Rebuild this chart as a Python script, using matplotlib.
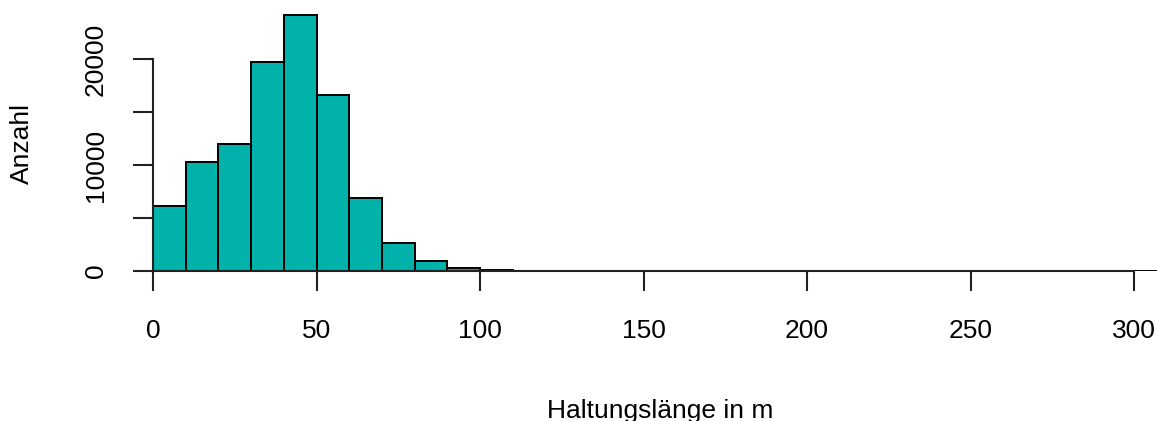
import matplotlib
matplotlib.use('Agg')

import matplotlib.pyplot as plt
import numpy as np

plt.rcParams['font.family'] = ['Liberation Sans', 'DejaVu Sans']

# histogram bins (left edges, width 10 m) and counts
bin_left = list(range(0, 310, 10))
counts = [6150, 10250, 11950, 19700, 24150, 16650, 6850, 2600, 970, 260,
          80, 30, 12, 6, 4, 3, 2, 2, 1, 1,
          1, 0, 1, 0, 0, 1, 0, 0, 0, 0, 1]
bin_width = 10

xticks = [0, 50, 100, 150, 200, 250, 300]
yticks = [0, 5000, 10000, 15000, 20000]
ytick_labels = ['0', '', '10000', '', '20000']

fig = plt.figure(figsize=(11.57, 4.21), dpi=100)
ax = fig.add_axes([153 / 1157, 150 / 421, 1004 / 1157, 265 / 421])

ax.bar(bin_left, counts, width=bin_width, align='edge',
       color='#00b2aa', edgecolor='black', linewidth=1.4)

ax.set_xlim(0, 307)
ax.set_ylim(0, 25000)

for side in ['top', 'right']:
    ax.spines[side].set_visible(False)
for side in ['left', 'bottom']:
    ax.spines[side].set_linewidth(1.5)
    ax.spines[side].set_color('#222222')
ax.spines['left'].set_bounds(0, 20000)
ax.spines['bottom'].set_bounds(0, 300)

ax.set_xticks(xticks)
ax.set_xticklabels([str(t) for t in xticks])
ax.set_yticks(yticks)
ax.set_yticklabels(ytick_labels)
ax.tick_params(axis='both', direction='out', length=14.4, width=1.5,
               color='#222222', labelsize=19)
ax.tick_params(axis='x', pad=20)
ax.tick_params(axis='y', pad=18)
plt.setp(ax.get_yticklabels(), rotation=90, va='center')

fig.text(22 / 1157, 1 - 143 / 421, 'Anzahl', rotation=90, fontsize=19,
         ha='center', va='center')
fig.text(660 / 1157, 1 - 418 / 421, 'Haltungslänge in m', fontsize=19,
         ha='center', va='baseline')

fig.savefig('out.png', dpi=100)
plt.close(fig)
